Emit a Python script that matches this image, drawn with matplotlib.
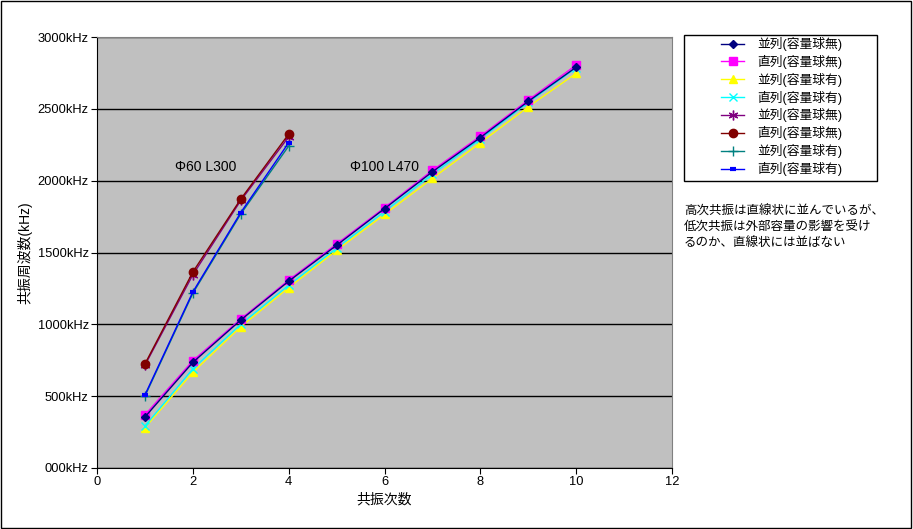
import matplotlib
matplotlib.use('Agg')
import matplotlib.pyplot as plt

plt.rcParams['font.family'] = ['Liberation Sans', 'Noto Sans CJK JP']

# 共振次数
x60 = [1, 2, 3, 4]
x100 = [1, 2, 3, 4, 5, 6, 7, 8, 9, 10]

# Φ100 L470 (kHz)
p100_no = [355, 735, 1030, 1300, 1550, 1805, 2062, 2300, 2552, 2790]
s100_no = [369, 747, 1037, 1308, 1559, 1812, 2072, 2310, 2561, 2805]
p100_yes = [280, 666, 983, 1255, 1515, 1765, 2016, 2264, 2514, 2747]
s100_yes = [292, 690, 1000, 1272, 1530, 1785, 2045, 2290, 2545, 2785]

# Φ60 L300 (kHz)
p60_no = [715, 1345, 1862, 2305]
s60_no = [724, 1364, 1872, 2324]
p60_yes = [500, 1216, 1768, 2241]
s60_yes = [508, 1225, 1778, 2264]

labels = ['並列(容量球無)', '直列(容量球無)', '並列(容量球有)', '直列(容量球有)',
          '並列(容量球無)', '直列(容量球無)', '並列(容量球有)', '直列(容量球有)']
yticks = [0, 500, 1000, 1500, 2000, 2500, 3000]
ytick_labels = ['000kHz', '500kHz', '1000kHz', '1500kHz', '2000kHz', '2500kHz', '3000kHz']

W, H = 913, 529
fig = plt.figure(figsize=(W/100, H/100), dpi=100, facecolor='white')
ax = fig.add_axes([97/W, 1-468/H, 575/W, 431/H])
ax.set_facecolor('#C0C0C0')

lw = 1.0
ax.plot(x100, p100_no, color='#000080', marker='D', ms=4, lw=lw, label=labels[0], zorder=5)
ax.plot(x100, s100_no, color='#FF00FF', marker='s', ms=6, lw=lw, label=labels[1], zorder=4)
ax.plot(x100, p100_yes, color='#FFFF00', marker='^', ms=6, lw=lw, label=labels[2], zorder=3)
ax.plot(x100, s100_yes, color='#00FFFF', marker='x', ms=6, mew=1, lw=lw, label=labels[3], zorder=3)
ax.plot(x60, p60_no, color='#800080', marker=(6, 2, 0), ms=7, mew=1, lw=lw, label=labels[4], zorder=4)
ax.plot(x60, s60_no, color='#800000', marker='o', ms=6, lw=lw, label=labels[5], zorder=5)
ax.plot(x60, p60_yes, color='#008080', marker='+', ms=7, mew=1, lw=lw, label=labels[6], zorder=4)
ax.plot(x60, s60_yes, color='#0000FF', marker='_', ms=5, mew=3, lw=lw, label=labels[7], zorder=5)

ax.set_xlim(0, 12)
ax.set_ylim(0, 3000)
ax.set_xticks([0, 2, 4, 6, 8, 10, 12])
ax.set_yticks(yticks)
ax.set_yticklabels(ytick_labels)
ax.tick_params(labelsize=9.3, length=4, direction='out', colors='black', pad=2)
ax.yaxis.grid(True, color='black', lw=1)
ax.set_axisbelow(True)
for sp in ax.spines.values():
    sp.set_color('#808080')
ax.spines['left'].set_color('black')
ax.spines['bottom'].set_color('black')

ax.set_xlabel('共振次数', fontsize=10, labelpad=3)
ax.set_ylabel('共振周波数(kHz)', fontsize=10, labelpad=4)

ax.text(1.63, 2095, 'Φ60 L300', fontsize=10, va='center')
ax.text(5.28, 2095, 'Φ100 L470', fontsize=10, va='center')

# legend frame drawn separately, entries without frame
fig.add_artist(plt.Rectangle((684/W, 1-181/H), 193/W, 146/H, transform=fig.transFigure,
                             fill=False, edgecolor='black', lw=1))
leg = fig.legend(loc='upper left', bbox_to_anchor=(721/W, 1-37/H),
                 fontsize=9.2, frameon=False, handlelength=1.8, borderpad=0,
                 labelspacing=0.3, handletextpad=1.0, borderaxespad=0)

fig.text(684/W, 1-206/H,
         '高次共振は直線状に並んでいるが、\n低次共振は外部容量の影響を受け\nるのか、直線状には並ばない',
         fontsize=9, va='top', ha='left', linespacing=1.38)

# outer border
fig.add_artist(plt.Rectangle((0.001, 0.002), 0.997, 0.996, transform=fig.transFigure,
                             fill=False, edgecolor='black', lw=1))

fig.savefig('out.png', dpi=100, facecolor='white')
